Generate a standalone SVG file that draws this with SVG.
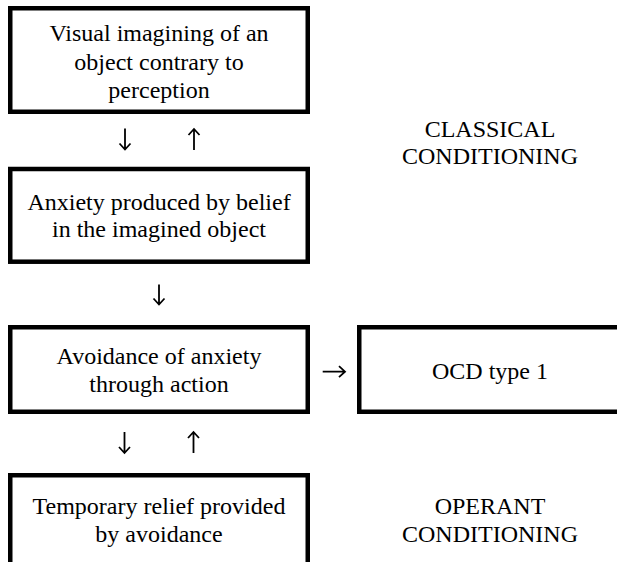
<svg xmlns="http://www.w3.org/2000/svg" width="617" height="562" viewBox="0 0 617 562">
<style>
.box{fill:#fff;stroke:#000;stroke-width:4.5}
text{font-family:'Liberation Serif','DejaVu Serif',serif;font-size:24px;fill:#000;text-anchor:middle}
.arr{fill:none;stroke:#000;stroke-width:1.8;stroke-linecap:butt;stroke-linejoin:miter}
</style>
<rect width="617" height="562" fill="#fff"/>
<g id="node-visual">
<rect class="box" x="10.25" y="8.25" width="297.5" height="103.5"/>
<text x="159" y="41">Visual imagining of an</text>
<text x="159" y="69.5">object contrary to</text>
<text x="159" y="98">perception</text>
</g>
<g id="node-anxiety">
<rect class="box" x="10.25" y="169" width="297.5" height="92.7"/>
<text x="159" y="210">Anxiety produced by belief</text>
<text x="159" y="237">in the imagined object</text>
</g>
<g id="node-avoidance">
<rect class="box" x="10.25" y="327.25" width="297.5" height="84.5"/>
<text x="159" y="363.5">Avoidance of anxiety</text>
<text x="159" y="391.5">through action</text>
</g>
<g id="node-ocd">
<rect class="box" x="359.25" y="327.25" width="262" height="84.5"/>
<text x="490" y="378.5">OCD type 1</text>
</g>
<g id="node-relief">
<rect class="box" x="10.25" y="475.25" width="297.5" height="120"/>
<text x="159" y="513.5">Temporary relief provided</text>
<text x="159" y="541.5">by avoidance</text>
</g>
<g id="label-classical">
<text x="490" y="136.7">CLASSICAL</text>
<text x="490" y="163.5">CONDITIONING</text>
</g>
<g id="label-operant">
<text x="490" y="513.5">OPERANT</text>
<text x="490" y="541.5">CONDITIONING</text>
</g>
<g id="connectors">
<path class="arr" d="M125 128.5V149M119.5 143.5L125 149.5L130.5 143.5"/>
<path class="arr" d="M194 150V129.5M188.5 135L194 129L199.5 135"/>
<path class="arr" d="M159 284.5V304M153.5 298.5L159 304.5L164.5 298.5"/>
<path class="arr" d="M322.7 371.7H344.5M339 366.2L345 371.7L339 377.2"/>
<path class="arr" d="M124.5 432V452.5M119 447L124.5 453L130 447"/>
<path class="arr" d="M193.5 453V432.5M188 438L193.5 432L199 438"/>
</g>
</svg>
